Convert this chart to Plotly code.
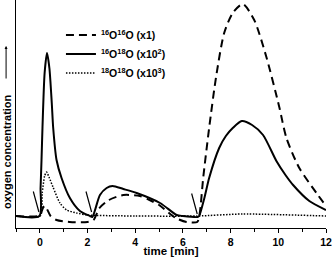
import plotly.graph_objects as go

# 16O16O (x1) - dashed
t_a = [-1.0, -0.05, 0.05, 0.15, 0.22, 0.3, 0.45, 0.7, 1.25, 2.0, 2.25, 2.5, 2.9, 3.5, 4.2, 4.6, 5.0, 5.7, 6.15, 6.6, 6.7, 6.85, 7.1, 7.39, 7.73, 8.09, 8.51, 8.99, 9.5, 10.04, 10.34, 10.88, 11.6, 12.0]
v_a = [12, 12, 15, 21, 22, 19, 12, 8, 6, 6, 8, 20, 28, 33, 32, 28, 23, 10, 6, 6, 14, 50, 100, 151, 195, 215, 224, 208, 171, 121, 90, 60, 35, 22]

# 16O18O (x10^2) - solid
t_b = [-1.0, -0.02, 0.03, 0.07, 0.11, 0.2, 0.3, 0.4, 0.5, 0.56, 0.7, 0.91, 1.26, 1.68, 2.1, 2.2, 2.52, 2.8, 3.05, 3.5, 4.06, 5.04, 5.74, 6.0, 6.62, 6.68, 6.9, 7.1, 7.52, 7.8, 8.09, 8.47, 8.9, 9.36, 9.92, 10.3, 10.62, 11.3, 12.0]
v_b = [12, 12, 40, 68, 100, 155, 175, 160, 125, 100, 68, 50, 30, 17, 12, 11, 33, 40, 42, 39, 35, 25, 13, 12, 11, 12, 30, 50, 80, 92, 100, 107, 103, 93, 67, 53, 43, 27, 18]

# 18O18O (x10^3) - dotted
t_c = [-1.0, 0.02, 0.1, 0.2, 0.28, 0.4, 0.55, 0.84, 1.12, 1.54, 2.0, 4.0, 6.6, 8.5, 12.0]
v_c = [12, 12, 35, 52, 56, 50, 41, 25, 18, 15, 13, 12, 12, 14, 12]

names = ["<sup>16</sup>O<sup>16</sup>O (x1)",
         "<sup>16</sup>O<sup>18</sup>O (x10<sup>2</sup>)",
         "<sup>18</sup>O<sup>18</sup>O (x10<sup>3</sup>)"]

# injection marks (time, level)
inj_t = [-0.04, 2.17, 6.6]
inj_v = [16, 16, 14]

x_ticks = [0, 2, 4, 6, 8, 10, 12]

FONT = "Arial, Liberation Sans, sans-serif"

fig = go.Figure()
fig.add_trace(go.Scatter(x=t_a, y=v_a, mode="lines", name=names[0],
                         line=dict(color="black", width=2, dash="8px,5px", shape="spline", smoothing=0.7)))
fig.add_trace(go.Scatter(x=t_b, y=v_b, mode="lines", name=names[1],
                         line=dict(color="black", width=2, shape="spline", smoothing=0.7)))
fig.add_trace(go.Scatter(x=t_c, y=v_c, mode="lines", name=names[2],
                         line=dict(color="black", width=1.5, dash="1.5px,1.5px", shape="spline", smoothing=0.6)))

for t, v in zip(inj_t, inj_v):
    fig.add_annotation(x=t, y=v, xref="x", yref="y", text="", showarrow=True,
                       arrowhead=0, arrowwidth=1.2, arrowcolor="black",
                       ax=-6, ay=-22, standoff=0)

# y-axis title and arrow
fig.add_annotation(x=-0.029, y=1 - 152 / 228, xref="paper", yref="paper",
                   xanchor="center", yanchor="middle",
                   text="oxygen concentration", textangle=-90, showarrow=False,
                   font=dict(family=FONT, size=11, color="black", weight="bold"))
fig.add_annotation(x=-0.032, y=1 - 46 / 228, xref="paper", yref="paper",
                   text="", showarrow=True, arrowhead=2, arrowsize=0.6, arrowwidth=1,
                   arrowcolor="black", ax=0, ay=34, standoff=0)

fig.update_layout(
    width=332, height=257,
    margin=dict(l=16, r=6, t=0, b=29),
    paper_bgcolor="white", plot_bgcolor="white",
    font=dict(family=FONT, color="black"),
    showlegend=True,
    legend=dict(x=0.145, y=0.91, xanchor="left", yanchor="top",
                bgcolor="rgba(0,0,0,0)", itemwidth=30,
                font=dict(family=FONT, size=10.5, color="black", weight="bold"),
                tracegroupgap=0),
    xaxis=dict(range=[-1, 12], showgrid=False, zeroline=False, showline=True,
               linecolor="black", linewidth=1, ticks="outside", ticklen=4,
               tickcolor="black", tickvals=x_ticks,
               tickfont=dict(family=FONT, size=10.5, color="black", weight="bold"),
               minor=dict(dtick=1, tick0=-1, ticks="outside", ticklen=3, tickcolor="black"),
               automargin=False,
               title=dict(text="time [min]", standoff=5,
                          font=dict(family=FONT, size=11.5, color="black", weight="bold"))),
    yaxis=dict(range=[0, 228], showgrid=False, zeroline=False, showline=True,
               linecolor="black", linewidth=1, showticklabels=False, ticks=""),
)

fig.write_html("out.html", config={"displayModeBar": False},
               post_script="document.body.style.margin='0';")
